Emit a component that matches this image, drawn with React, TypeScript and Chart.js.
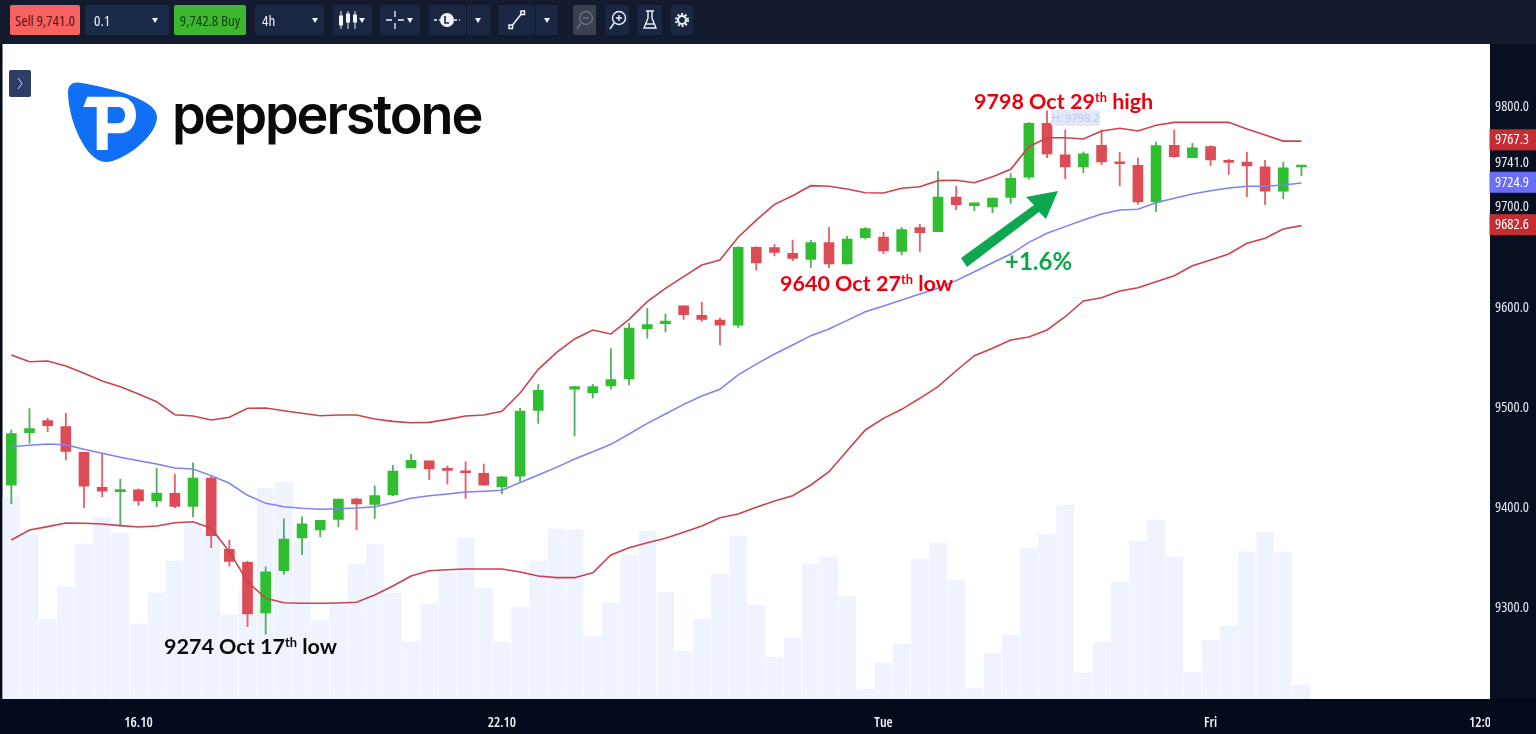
import React, { useEffect, useRef } from "react";
import { Chart, registerables } from "chart.js";

Chart.register(...registerables);

const opens = [9422.5,9475,9487,9481,9455.4,9420.5,9416.1,9418,9407,9414.5,9401.5,9429.8,9358.6,9345.6,9295,9337.2,9369.9,9377.9,9388.5,9408.8,9403.5,9412.8,9439.7,9447,9438.4,9436.7,9434.4,9421,9431.7,9497.3,null,9518.3,9514.6,9521.6,9528.6,9578.8,9583.7,9601.7,9592.1,9587.4,9582.4,9660,9659.6,9654,9648,9664.6,9643.3,9669.6,9670.3,9656,9679.6,9675.6,9710.2,9701.5,9700.2,9709.9,9729.9,9783.7,9752.4,9740.1,9761.8,9744.4,9741.8,9705.2,9761.8,9749.4,9760.4,9746.1,9745.1,9740.4,9715.9,9740.1];
const highs = [9477.7,9499,9489.3,9494.3,9455.4,9454.4,9428.8,9419,9439.5,9433.5,9445,9431.8,9367.9,9346.9,9341.2,9389.1,9391.1,9387.5,9408.8,9409.8,9422,9442.4,9453.4,9447,9441.7,9446,9443.7,9431,9499.3,9522.9,null,9520.9,9523.3,9558.8,9584.1,9599.1,9593.4,9601.7,9605.1,9589.7,9660.6,9660.6,9662.6,9667.3,9667,9679.9,9671.3,9679.6,9675,9679.6,9683,9735.8,9720.9,9704.5,9709.2,9733.5,9784.7,9796.3,9777,9755.4,9777,9754.8,9749.1,9765.1,9777,9763.8,9761.4,9747.8,9754.8,9746.8,9745.1,9740.8];
const lows = [9403.8,9464.4,9476,9447.7,9400.1,9410.8,9381.9,9402.5,9401.1,9400.1,9390.8,9360.2,9341.9,9281.3,9274,9333.6,9353.2,9370.9,9381.2,9377.9,9389.5,9412.1,9439.7,9428,9423.5,9409.5,9422.5,9414.1,9425,9484.3,null,9471.7,9509.6,9518.3,9522.6,9569.2,9575.5,9588.1,9586.1,9562.5,9580.1,9637.3,9651.3,9646.6,9639.6,9639.6,9643.3,9668,9653.6,9652.3,9656,9675.6,9697.5,9696.5,9694.5,9703.9,9727.9,9749.4,9728.5,9734.4,9742.4,9721.2,9702.9,9695.5,9749.8,9749.4,9741.4,9732.8,9710.5,9702.5,9708.5,9731.5];
const closes = [9474,9479,9482,9456.4,9421.5,9416.5,9417.5,9407,9414.8,9401.5,9429.8,9372.2,9346.6,9294,9336.2,9368.9,9384.1,9387.5,9408.8,9403.8,9412.1,9436.7,9447.4,9438.7,9437.4,9435,9422.5,9431,9496.6,9517.3,null,9520.9,9520.9,9527.9,9579.5,9582.8,9586.4,9592.7,9588.1,9582.4,9660,9644.3,9655,9649,9664.6,9643.3,9668.3,9678.6,9656.3,9677.6,9674.6,9710.2,9702.5,9704.5,9709.2,9728.9,9783.7,9753.1,9740.1,9753.4,9745.1,9743.4,9705.2,9761.4,9750.4,9759.4,9747.1,9744.8,9741.1,9715.9,9739.4,9740.8];
const upperBand = [9552.5,9545.8,9546.5,9541.5,9534.3,9526.6,9520.9,9513.6,9505.9,9492.9,9491.6,9487.6,9490.3,9499.3,9499.6,9496.9,9494.3,9491.9,9492.6,9492.6,9488.6,9486.3,9484.9,9485.3,9488.3,9491.6,9492.6,9496.3,9514.6,9538.2,9554.8,9568.5,9577.5,9573.5,9588.1,9605.7,9619.1,9630.7,9642.3,9647.3,9670,9687.2,9702.9,9711.5,9721.5,9720.9,9718.2,9714.5,9714.2,9718.9,9720.5,9726.5,9726.9,9724.5,9730.5,9737.8,9760.4,9769.4,9769.4,9768.1,9776.1,9778.8,9776.1,9781.8,9784.7,9784.7,9784.7,9784.7,9778,9772,9766,9766];
const middleBand = [9461,9462.4,9463.7,9463,9458.4,9454.4,9450.4,9447,9443.7,9439.7,9438.7,9432.1,9424.5,9412.5,9404.5,9401.1,9399.5,9398.5,9399.1,9399.8,9401.1,9405.1,9409.5,9412.1,9413.8,9415.8,9416.5,9417.5,9425.3,9432.7,9440.4,9448.7,9456,9463.4,9473.7,9484.3,9493.6,9503.3,9511.6,9518.3,9532.6,9543.5,9553.5,9562.5,9571.8,9578.5,9587.1,9595.7,9601.4,9607.4,9613.4,9619.1,9626.7,9635.6,9644.6,9653.3,9665,9674,9680.6,9687.2,9693.2,9697.2,9697.9,9704.5,9708.9,9713.2,9716.5,9719.2,9720.9,9720.9,9722.2,9724.2];
const lowerBand = [9367.9,9377.9,9381.2,9384.8,9384.6,9383.8,9382.2,9380.9,9381.9,9385.1,9386.1,9379.6,9356.2,9326.2,9309.7,9305.3,9304.7,9304.7,9305,9305.7,9313,9322,9332,9337.2,9338.2,9338.9,9338.9,9338.9,9335.9,9332,9330.3,9330.3,9335.2,9352.9,9360.2,9365.2,9369.6,9375.6,9381.9,9390.1,9393.8,9400.5,9406.8,9412.1,9422.8,9436,9457,9477.7,9489.3,9498.3,9509.3,9520.9,9536.8,9551.8,9559.2,9567.5,9570.5,9577.5,9590.7,9606.4,9609.7,9616.4,9619.7,9625.7,9631.6,9641.6,9647.3,9653.3,9664,9669,9678.3,9681.6];
const volumes = [202,164,80,112,155,182,166,75,106,138,174,166,84,109,211,217,157,79,94,135,155,106,57,95,126,161,111,57,92,138,170,169,63,96,144,168,107,48,80,125,163,94,42,61,135,142,103,10,36,55,140,156,119,11,46,64,151,165,194,26,57,117,158,179,142,27,59,73,147,167,147,14];
const yTickValues = [9300,9400,9500,9600,9700,9800];
const xTickIndex = [7,27,48,66,81];
const xTickLabels = ["16.10","22.10","Tue","Fri","12:00"];
const bandTags = [9767.3,9724.9,9682.6];
const lastPrice = 9741.0;

const GREEN = "#2FBE2F", GREEN_WICK = "#58AE68", RED = "#DB4C57", RED_WICK = "#E5626C";
const TOP = "#141B2F", BOTTOM = "#030B1C", SIDE = "#080F21";
const NARROW = '"Open Sans","Roboto",sans-serif';

const panels = {
  id: "panels",
  beforeDraw(c: any) {
    const g = c.ctx;
    g.save();
    g.fillStyle = TOP; g.fillRect(0, 0, 1536, 44);
    g.fillStyle = BOTTOM; g.fillRect(0, 699, 1536, 35); g.fillRect(0, 44, 2.5, 655);
    g.fillStyle = SIDE; g.fillRect(1490, 44, 46, 655);
    g.restore();
  },
  afterDraw(c: any) {
    const g = c.ctx, y = c.scales.y;
    g.save();
    g.fillStyle = BOTTOM; g.fillRect(1490, 699, 46, 35);
    g.font = `condensed 500 14.5px ${NARROW}`;
    g.textAlign = "center"; g.textBaseline = "middle";
    bandTags.forEach((v, i) => {
      const p = y.getPixelForValue(v);
      g.fillStyle = i === 1 ? "#6A6DF6" : "#C42E33";
      g.fillRect(1489.5, p - 10.5, 46.5, 21);
      g.fillStyle = "#FFFFFF";
      g.fillText(v.toFixed(1), 1512, p + 0.5);
    });
    g.fillStyle = "#F2F4F8";
    g.fillText(lastPrice.toFixed(1), 1512, y.getPixelForValue(lastPrice) - 3.5);
    g.restore();
  },
};

const Caret = ({ x }: { x: number }) => (
  <div style={{ position: "absolute", left: x, top: 18, width: 0, height: 0, borderLeft: "3.5px solid transparent", borderRight: "3.5px solid transparent", borderTop: "5px solid #F0F2F7" }} />
);

const Box = ({ x, w, bg = "#1A2743", y = 5, h = 30, color = "#F0F2F7", children, pad = 0, align = "center" }: any) => (
  <div style={{ position: "absolute", left: x, top: y, width: w, height: h, background: bg, color, borderRadius: 2, display: "flex", alignItems: "center", justifyContent: align, paddingLeft: pad, boxSizing: "border-box", fontFamily: NARROW, fontSize: 15, fontStretch: "condensed", whiteSpace: "nowrap" }}>{children}</div>
);

const Note = ({ x, y, size = 21.5, color, children }: any) => (
  <div style={{ position: "absolute", left: x, top: y, font: `700 ${size}px Lato, sans-serif`, lineHeight: `${size + 4}px`, color, whiteSpace: "nowrap" }}>{children}</div>
);

const Th = () => <span style={{ fontSize: "0.6em", position: "relative", top: "-0.55em" }}>th</span>;

export default function App() {
  const ref = useRef<HTMLCanvasElement>(null);
  useEffect(() => {
    const cat = opens.map((_, i) => i);
    const chart = new Chart(ref.current as HTMLCanvasElement, {
      type: "bar",
      data: {
        datasets: [
          { type: "line", data: cat.map((i) => ({ x: i, y: upperBand[i] })), borderColor: "#C8434E", borderWidth: 1.6, pointRadius: 0, tension: 0, order: 1, yAxisID: "y" },
          { type: "line", data: cat.map((i) => ({ x: i, y: middleBand[i] })), borderColor: "#7F82F2", borderWidth: 1.5, pointRadius: 0, tension: 0, order: 1, yAxisID: "y" },
          { type: "line", data: cat.map((i) => ({ x: i, y: lowerBand[i] })), borderColor: "#C8434E", borderWidth: 1.6, pointRadius: 0, tension: 0, order: 1, yAxisID: "y" },
          { type: "bar", data: cat.map((i) => ({ x: i, y: opens[i] === null ? null : [Math.min(opens[i] as number, closes[i] as number), Math.max(opens[i] as number, closes[i] as number)] })), backgroundColor: cat.map((i) => ((closes[i] as number) >= (opens[i] as number) ? GREEN : RED)), grouped: false, barPercentage: 1, categoryPercentage: 1, maxBarThickness: 10, minBarLength: 2, order: 2, yAxisID: "y" },
          { type: "bar", data: cat.map((i) => ({ x: i, y: highs[i] === null ? null : [lows[i], highs[i]] })), backgroundColor: cat.map((i) => ((closes[i] as number) >= (opens[i] as number) ? GREEN_WICK : RED_WICK)), grouped: false, barPercentage: 1, categoryPercentage: 1, maxBarThickness: 1.2, order: 3, yAxisID: "y" },
          { type: "bar", data: cat.map((i) => ({ x: i, y: volumes[i] })), backgroundColor: "#EEF3FD", grouped: false, barPercentage: 1, categoryPercentage: 1, maxBarThickness: 17, order: 5, yAxisID: "v" },
        ],
      } as any,
      options: {
        animation: false,
        responsive: false,
        layout: { padding: { top: 44, left: 2.5, right: 0, bottom: 0 } },
        plugins: { legend: { display: false }, tooltip: { enabled: false }, title: { display: false } },
        scales: {
          x: {
            type: "linear", min: -0.485, max: 81.35, offset: false,
            grid: { display: false }, border: { display: false },
            afterBuildTicks: (s: any) => { s.ticks = xTickIndex.map((value) => ({ value })); },
            afterFit: (s: any) => { s.height = 35; },
            ticks: { autoSkip: false, maxRotation: 0, padding: 8, color: "#F4F6FA", font: { family: NARROW, size: 14, weight: "condensed 600" },
              callback: (v: any) => xTickLabels[xTickIndex.indexOf(v)] ?? "" },
          },
          y: {
            position: "right", min: 9209.2, max: 9862.9,
            grid: { display: false, drawTicks: false }, border: { display: false },
            afterBuildTicks: (s: any) => { s.ticks = yTickValues.map((value) => ({ value })); },
            afterFit: (s: any) => { s.width = 46.5; },
            ticks: { color: "#E8EBF2", padding: 5.5, font: { family: NARROW, size: 14.5, weight: "condensed 500" }, callback: (v: any) => Number(v).toFixed(1) },
          },
          v: { display: false, min: 0, max: 655 },
        },
      } as any,
      plugins: [panels],
    });
    return () => chart.destroy();
  }, []);

  return (
    <div style={{ position: "absolute", left: 0, top: 0, width: 1536, height: 734, overflow: "hidden", background: "#fff" }}>
      <canvas ref={ref} width={1536} height={734} style={{ position: "absolute", left: 0, top: 0, width: 1536, height: 734 }} />

      <Box x={10} w={70} bg="#F8635F" color="#5A1518">Sell 9,741.0</Box>
      <Box x={85} w={84} bg="#1A2B4A" pad={9} align="flex-start">0.1</Box><Caret x={152} />
      <Box x={174} w={72} bg="#3CB72F" color="#123F12">9,742.8 Buy</Box>
      <Box x={255} w={69} pad={7} align="flex-start">4h</Box><Caret x={312} />
      <Box x={333} w={39} align="flex-start" />
      <svg style={{ position: "absolute", left: 338, top: 10 }} width="22" height="20" stroke="#F0F2F7" fill="#F0F2F7"><path d="M3 1V19M10 1V19M17 1V19" strokeWidth="1" /><rect x="1.5" y="6" width="3" height="9" /><rect x="8.5" y="4" width="3" height="8" /><rect x="15.5" y="5" width="3" height="7" /></svg><Caret x={359} />
      <Box x={380} w={40} />
      <svg style={{ position: "absolute", left: 386, top: 10 }} width="20" height="20" stroke="#F0F2F7" strokeWidth="1.3"><path d="M0 10H6M12 10H18M9 1V7M9 13V19" /></svg><Caret x={407} />
      <Box x={429} w={37} /><Box x={467} w={23} />
      <svg style={{ position: "absolute", left: 434, top: 10 }} width="28" height="20"><path d="M0 10H26" stroke="#F0F2F7" strokeDasharray="3 2" strokeWidth="1.3" /><circle cx="13" cy="10" r="7" fill="#F0F2F7" /><path d="M11 6V13H15" stroke="#1A2743" strokeWidth="1.6" fill="none" /></svg><Caret x={475} />
      <Box x={498} w={37} /><Box x={536} w={22} />
      <svg style={{ position: "absolute", left: 507, top: 9 }} width="20" height="22" stroke="#F0F2F7" strokeWidth="1.5" fill="#1A2743"><path d="M4 18L15 4" /><rect x="2" y="16" width="3.5" height="3.5" /><rect x="14" y="2" width="3.5" height="3.5" /></svg><Caret x={544} />
      <Box x={573} w={23} bg="#3A4252" />
      <svg style={{ position: "absolute", left: 575, top: 9 }} width="20" height="22" stroke="#6B7280" strokeWidth="1.4" fill="none"><circle cx="11" cy="9" r="6.5" /><path d="M8 9H14M6 14L2 20" /></svg>
      <Box x={606} w={23} />
      <svg style={{ position: "absolute", left: 608, top: 9 }} width="20" height="22" stroke="#F0F2F7" strokeWidth="1.4" fill="none"><circle cx="11" cy="9" r="6.5" /><path d="M8 9H14M11 6V12M6 14L2 20" /></svg>
      <Box x={638} w={24} />
      <svg style={{ position: "absolute", left: 641, top: 9 }} width="18" height="22" stroke="#F0F2F7" strokeWidth="1.4" fill="none"><path d="M5 2H13M7 2V9L3 19H15L11 9V2" /><path d="M5 15H13" /></svg>
      <Box x={671} w={22} />
      <svg style={{ position: "absolute", left: 675, top: 12 }} width="14" height="16" stroke="#F0F2F7" strokeWidth="2.2" fill="none"><circle cx="7" cy="8" r="4" /><circle cx="7" cy="8" r="6" strokeDasharray="2 1.8" strokeWidth="2" /></svg>

      <div style={{ position: "absolute", left: 9, top: 70, width: 22, height: 27, background: "#2E3D66", borderRadius: 2 }} />
      <svg style={{ position: "absolute", left: 15, top: 77 }} width="10" height="13" stroke="#D8DCE8" strokeWidth="1" fill="none"><path d="M3 1L7 6.5L3 12" /></svg>

      <svg style={{ position: "absolute", left: 60, top: 75 }} width="105" height="92">
        <path d="M8 17C8 9 14 6 22 8C50 13 97 24 97 42C97 62 62 87 46 87C26 87 8 45 8 17Z" fill="#0F6FF5" />
        <path d="M27.3 21.7H60C70 21.7 76 30 76 40C76 50 70 58.3 60 58.3H47.7V75H36.7V32H23.3Z M47.7 32V48.3H58C63 48.3 65 44 65 40C65 36 63 32 58 32Z" fill="#fff" fillRule="evenodd" />
      </svg>
      <div style={{ position: "absolute", left: 172, top: 79, font: '600 54px Inter, sans-serif', lineHeight: "72px", letterSpacing: "-2.1px", color: "#0A0A0A" }}>pepperstone</div>

      <Note x={974} y={89} color="#E8000F">9798 Oct 29<Th /> high</Note>
      <Note x={780} y={271} color="#E8000F">9640 Oct 27<Th /> low</Note>
      <Note x={164} y={634} color="#0A0A0A">9274 Oct 17<Th /> low</Note>
      <Note x={1005} y={247} size={24} color="#0FA64B">+1.6%</Note>

      <div style={{ position: "absolute", left: 1051, top: 110, width: 49, height: 16, background: "#E3E8FB", color: "#BAC5EE", font: `11px ${NARROW}`, lineHeight: "16px", textAlign: "center", borderRadius: 2 }}>H: 9798.2</div>

      <svg style={{ position: "absolute", left: 950, top: 180 }} width="120" height="95">
        <path d="M11 78L84 25L76 17L108 11L96 39L89 32L17 87Z" fill="#0FA650" />
      </svg>
    </div>
  );
}
